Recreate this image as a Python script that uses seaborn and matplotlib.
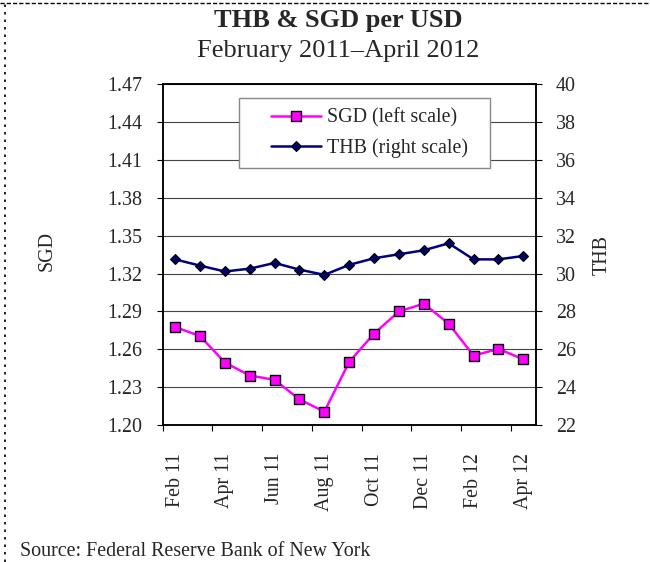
import numpy as np
import pandas as pd
import matplotlib
matplotlib.use("Agg")
import matplotlib.pyplot as plt
from matplotlib.lines import Line2D
from matplotlib.patches import Rectangle
import seaborn as sns

# Monthly exchange rates, February 2011 - April 2012
months = ["Feb 11", "Mar 11", "Apr 11", "May 11", "Jun 11", "Jul 11", "Aug 11",
          "Sep 11", "Oct 11", "Nov 11", "Dec 11", "Jan 12", "Feb 12", "Mar 12", "Apr 12"]
sgd = [1.2776, 1.2705, 1.2495, 1.2392, 1.2358, 1.2203, 1.2105,
       1.2500, 1.2724, 1.2900, 1.2961, 1.2803, 1.2550, 1.2603, 1.2521]
thb = [30.75, 30.42, 30.11, 30.26, 30.56, 30.21, 29.93,
       30.46, 30.81, 31.02, 31.23, 31.60, 30.75, 30.75, 30.93]

sgd_ticks = [1.20, 1.23, 1.26, 1.29, 1.32, 1.35, 1.38, 1.41, 1.44, 1.47]
thb_ticks = [22, 24, 26, 28, 30, 32, 34, 36, 38, 40]
labelled_months = months[::2]

df = pd.DataFrame({"pos": np.arange(len(months)), "month": months,
                   "SGD": sgd, "THB": thb})

sns.set_style("white")
plt.rcParams["font.family"] = ["Liberation Serif", "DejaVu Serif"]
plt.rcParams["font.size"] = 14.4

fig = plt.figure(figsize=(6.5, 5.62), dpi=100)
ax = fig.add_axes([0.2503, 0.2438, 0.5739, 0.6062])
ax2 = ax.twinx()

sns.lineplot(data=df, x="pos", y="SGD", ax=ax, color="#FF00FF", lw=1.8,
             marker="s", markersize=6.5, markerfacecolor="#FF00FF",
             markeredgecolor="black", markeredgewidth=1.0, legend=False)
sns.lineplot(data=df, x="pos", y="THB", ax=ax2, color="#000080", lw=1.8,
             marker="D", markersize=5.5, markerfacecolor="#000066",
             markeredgecolor="black", markeredgewidth=0.8, legend=False)

ax.set_xlim(-0.5, len(months) - 0.5)
ax.set_ylim(sgd_ticks[0], sgd_ticks[-1])
ax2.set_ylim(thb_ticks[0], thb_ticks[-1])

ax.set_yticks(sgd_ticks)
ax.set_yticklabels([f"{v:.2f}" for v in sgd_ticks])
ax2.set_yticks(thb_ticks)
ax2.set_yticklabels([str(v) for v in thb_ticks])

ax.set_xticks(np.arange(0, len(months), 2))
ax.set_xticklabels(labelled_months, rotation=90)
ax.set_xticks(np.arange(-0.5, len(months) - 1, 2), minor=True)

ax.tick_params(axis="x", which="major", length=0, pad=20, labelsize=14.4)
ax.tick_params(axis="x", which="minor", direction="out", length=4.5,
               width=0.8, color="black", bottom=True)
ax.tick_params(axis="y", direction="out", length=4.5, width=0.8,
               color="black", pad=10, labelsize=14.4, left=True)
ax2.tick_params(axis="y", direction="out", length=4.5, width=0.8,
                color="black", pad=10, labelsize=14.4, right=True)

ax.yaxis.grid(True, color="#444444", lw=0.8)
ax.xaxis.grid(False)
ax.set_axisbelow(True)

for a in (ax, ax2):
    for s in a.spines.values():
        s.set_color("black")
        s.set_linewidth(1.1)
        s.set_visible(True)

ax.set_xlabel("")
ax.set_ylabel("SGD", fontsize=14.4)
ax2.set_ylabel("THB", fontsize=14.4)
ax.yaxis.set_label_coords(-0.285, 0.51)
ax2.yaxis.set_label_coords(1.152, 0.50)
ax2.yaxis.label.set_rotation(90)

# Legend box with both series
box = Rectangle((0.2046, 0.754), 0.6724, 0.206, transform=ax2.transAxes,
                facecolor="white", edgecolor="#888888", lw=1.0, zorder=4)
ax2.add_patch(box)
handles = [ax.get_lines()[0], ax2.get_lines()[0]]
leg = ax2.legend(handles, ["SGD (left scale)", "THB (right scale)"],
                 loc="center left", bbox_to_anchor=(0.29, 0.857),
                 frameon=False, fontsize=14.4, handlelength=2.5,
                 handletextpad=0.3, labelspacing=0.5, borderpad=0,
                 borderaxespad=0)
leg.set_zorder(5)

fig.text(0.52, 1 - 20 / 562, "THB & SGD per USD", ha="center", va="center",
         fontsize=19, fontweight="bold")
fig.text(0.52, 1 - 51 / 562, "February 2011\u2013April 2012", ha="center",
         va="center", fontsize=19)
fig.text(20 / 650, 6 / 562, "Source: Federal Reserve Bank of New York",
         ha="left", va="baseline", fontsize=14.4)

# Frame around the chart object
fig.add_artist(Line2D([0, 1], [1 - 3 / 562, 1 - 3 / 562], color="black",
                      lw=1.0, ls=(0, (3, 1.5)), transform=fig.transFigure))
fig.add_artist(Line2D([5 / 650, 5 / 650], [0, 1 - 3 / 562], color="black",
                      lw=1.2, ls=(0, (1.5, 3)), transform=fig.transFigure))

fig.savefig("out.png", dpi=100)
